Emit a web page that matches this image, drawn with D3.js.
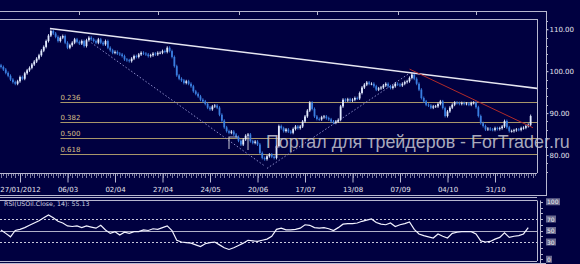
<!DOCTYPE html>
<html><head><meta charset="utf-8">
<script src="https://cdn.jsdelivr.net/npm/d3@7"></script>
<style>
html,body{margin:0;padding:0;background:#000040;overflow:hidden;}
svg{display:block;}
</style></head>
<body>
<svg id="c" width="580" height="264"></svg>
<script>
// ---------------- DATA ----------------
const closes = [
101.0,100.4,99.6,98.9,98.0,97.4,97.0,97.6,98.6,98.2,
99.5,100.2,100.8,101.6,102.3,103.0,103.8,104.9,105.8,107.2,
108.5,109.6,109.0,108.2,107.2,108.0,108.4,106.8,105.6,106.2,
106.8,107.6,107.0,106.6,107.2,106.0,107.4,108.0,107.6,107.2,
106.8,107.6,106.8,106.4,107.2,105.6,105.0,104.4,104.6,104.2,
104.0,103.6,102.8,102.6,102.4,103.0,103.6,103.4,104.0,104.4,
104.2,104.0,103.6,103.8,104.2,104.0,104.4,104.4,104.8,104.6,
105.6,104.8,103.4,101.2,99.0,98.2,97.8,97.2,97.6,97.0,
96.4,95.2,94.6,94.0,93.2,92.8,92.2,91.3,90.9,91.6,
91.8,91.3,89.6,88.2,86.6,85.7,85.3,85.6,84.9,84.3,
83.4,82.5,83.7,84.6,84.9,83.3,82.9,83.2,82.5,80.5,
79.3,79.0,79.7,80.1,79.6,79.3,82.1,86.9,86.4,85.7,
86.1,85.6,85.3,86.2,86.8,86.4,86.8,88.0,89.2,90.6,
92.5,91.0,89.2,88.6,88.5,89.0,89.2,88.8,88.5,88.0,
87.7,88.0,88.4,91.6,93.2,93.0,93.3,93.0,93.2,93.6,
93.5,94.8,96.1,96.8,97.3,97.0,97.0,96.4,95.6,95.9,
96.1,96.6,97.0,96.4,96.0,96.4,97.0,96.8,96.6,97.0,
97.4,97.6,98.4,99.2,98.2,97.0,95.6,93.6,92.8,92.0,
91.8,91.3,91.6,91.6,92.2,92.8,91.2,89.3,90.4,91.3,
92.0,92.5,92.4,92.2,92.4,92.2,92.3,92.0,92.4,92.5,
91.4,89.3,87.6,86.9,86.1,86.3,86.1,86.0,86.4,86.2,
86.4,86.8,88.1,86.6,85.7,85.7,85.9,86.1,86.0,86.4,
86.5,86.9,87.2,89.3
];
const firstOpen = 101.4;
// RSI(14) read every second bar
const rsi = [
51,45,39,50,52,55,59,63,67,72,
77,72,66,63,58,57,58,55,58,56,
54,59,51,45,48,42,47,45,48,48,
51,50,53,52,55,58,50,33,30,29,
28,25,22,27,29,30,25,20,17,20,
24,28,33,32,31,33,35,40,52,54,
51,51,52,54,60,59,55,54,55,53,
50,55,61,62,62,63,66,68,70,64,
61,60,63,57,60,62,65,52,44,41,
39,37,44,40,37,45,47,48,48,48,
44,32,30,31,35,38,46,38,40,41,
44,55
];
const dateLabels = ["27/01/2012","06/03","02/04","27/04","24/05","20/06","17/07","13/08","07/09","04/10","31/10"];
const dateIdx = [8,28,48,68,88,108,128,148,168,188,208];
const topTickIdx = [33,66,100,133,167,200];
const priceTicks = [80,90,100,110];
const rsiTicks = [100,70,50,30,0];
const fibLabels = ["0.236","0.382","0.500","0.618"];
const fibPrices = [92.6,87.9,84.0,80.2];
const fibStartIdx = 25;
const trendLine = [[20.6,110.2],[225.7,95.9]];
const redLine = [[172,100.5],[224,86.5]];
const dotLineA = [[38,106.8],[111,77.4]];
const dotLineB = [[112,76.8],[172,99.5]];
const rsiLabel = "RSI(USOil.Close, 14): 55.13";
const watermark = "Портал для трейдеров - ForTrader.ru";

// ---------------- CHART ----------------
const svg = d3.select("#c");
const W = 580, H = 264;
const BG = "#000040";
const plotR = 537, axisX = 546;
const mainTop = 19, mainBot = 173;
const rsiTop = 200.5, rsiBot = 261;
const FONT = "DejaVu Sans, Verdana, sans-serif";

svg.append("rect").attr("width",W).attr("height",H).attr("fill",BG);

const x = d3.scaleLinear().domain([0, 223]).range([1, 1 + 2.375*223]);
const y = d3.scaleLinear().domain([80,110]).range([155, 29.3]);
const yr = d3.scaleLinear().domain([0,100]).range([259.25, 201.75]);

const frameCol = "#b8b8d0";

// top double line
svg.append("line").attr("x1",0).attr("x2",axisX).attr("y1",11.5).attr("y2",11.5).attr("stroke",frameCol);
svg.append("line").attr("x1",0).attr("x2",plotR).attr("y1",mainTop+0.5).attr("y2",mainTop+0.5).attr("stroke",frameCol);
svg.selectAll(".ttick").data(topTickIdx).enter().append("line")
  .attr("x1",d=>Math.round(x(d))+0.5).attr("x2",d=>Math.round(x(d))+0.5)
  .attr("y1",11.5).attr("y2",15).attr("stroke",frameCol);

// main panel right frame & axis line
svg.append("line").attr("x1",plotR+0.5).attr("x2",plotR+0.5).attr("y1",mainTop).attr("y2",mainBot).attr("stroke",frameCol);
svg.append("line").attr("x1",axisX+0.5).attr("x2",axisX+0.5).attr("y1",11).attr("y2",196).attr("stroke",frameCol);

const gMain = svg.append("g");
svg.append("clipPath").attr("id","clipMain").append("rect").attr("x",0).attr("y",mainTop+1).attr("width",plotR).attr("height",mainBot-mainTop-1);
gMain.attr("clip-path","url(#clipMain)");

// fib lines
const fibCol = "#a8966a";
fibPrices.forEach((p,k)=>{
  gMain.append("line").attr("x1",x(fibStartIdx)).attr("x2",plotR)
    .attr("y1",Math.round(y(p))+0.5).attr("y2",Math.round(y(p))+0.5).attr("stroke",fibCol).attr("stroke-width",1);
  gMain.append("text").attr("x",x(fibStartIdx)).attr("y",Math.round(y(p))-2)
    .attr("font-family",FONT).attr("font-size",7).attr("fill","#d6bf86").text(fibLabels[k]);
});

// dotted lines
[dotLineA, dotLineB].forEach(L=>{
  gMain.append("line").attr("x1",x(L[0][0])).attr("y1",y(L[0][1])).attr("x2",x(L[1][0])).attr("y2",y(L[1][1]))
    .attr("stroke","#8c8cc8").attr("stroke-width",1).attr("stroke-dasharray","1.5,2");
});

// candles
const candles = closes.map((c,i)=>{
  const o = i===0 ? firstOpen : closes[i-1];
  return {i, o, c};
});
const upCol = "#e2ebff", dnCol = "#3a7ee0";
const bw = 1.8;
gMain.selectAll(".wick").data(candles).enter().append("line")
  .attr("x1",d=>x(d.i)).attr("x2",d=>x(d.i))
  .attr("y1",d=>y(Math.max(d.o,d.c)+0.35)).attr("y2",d=>y(Math.min(d.o,d.c)-0.35))
  .attr("stroke",d=>d.c>=d.o?upCol:dnCol).attr("stroke-width",0.9);
gMain.selectAll(".body").data(candles).enter().append("rect")
  .attr("x",d=>x(d.i)-bw/2).attr("width",bw)
  .attr("y",d=>y(Math.max(d.o,d.c)))
  .attr("height",d=>Math.max(0.8, Math.abs(y(d.o)-y(d.c))))
  .attr("fill",d=>d.c>=d.o?upCol:dnCol);

// trend line & red line
gMain.append("line").attr("x1",x(trendLine[0][0])).attr("y1",y(trendLine[0][1]))
  .attr("x2",x(trendLine[1][0])).attr("y2",y(trendLine[1][1]))
  .attr("stroke","#e6e6f2").attr("stroke-width",1.6);
gMain.append("line").attr("x1",x(redLine[0][0])).attr("y1",y(redLine[0][1]))
  .attr("x2",x(redLine[1][0])).attr("y2",y(redLine[1][1]))
  .attr("stroke","#b02a2a").attr("stroke-width",1);

// right price axis
const rAxis = d3.axisRight(y).tickValues(priceTicks).tickFormat(d3.format(".2f")).tickSize(2).tickPadding(1);
const gR = svg.append("g").attr("transform",`translate(${axisX+0.5},0)`).call(rAxis);
gR.select(".domain").remove();
gR.selectAll("line").attr("stroke",frameCol);
gR.selectAll("text").attr("font-family",FONT).attr("font-size",7).attr("fill","#e4e4ee");
svg.selectAll(".pminor").data(d3.range(76,113,2)).enter().append("line")
  .attr("x1",axisX).attr("x2",axisX+2).attr("y1",d=>Math.round(y(d))+0.5).attr("y2",d=>Math.round(y(d))+0.5)
  .attr("stroke",frameCol);

// bottom time axis
svg.append("line").attr("x1",0).attr("x2",plotR).attr("y1",mainBot+0.5).attr("y2",mainBot+0.5).attr("stroke",frameCol);
svg.selectAll(".tminor").data(d3.range(0,226,1)).enter().append("line")
  .attr("x1",d=>Math.round(x(d))+0.5).attr("x2",d=>Math.round(x(d))+0.5)
  .attr("y1",mainBot).attr("y2",d=>d%2===0?mainBot+5:mainBot+3).attr("stroke",frameCol).attr("stroke-width",0.7);
const bAxis = d3.axisBottom(x).tickValues(dateIdx).tickFormat((d,k)=>dateLabels[k]).tickSize(9).tickPadding(5);
const gB = svg.append("g").attr("transform",`translate(0,${mainBot+0.5})`).call(bAxis);
gB.select(".domain").remove();
gB.selectAll("line").attr("stroke",frameCol);
gB.selectAll("text").attr("font-family",FONT).attr("font-size",7).attr("fill","#e4e4ee");

// separators
svg.append("line").attr("x1",0).attr("x2",axisX).attr("y1",195.5).attr("y2",195.5).attr("stroke",frameCol);
svg.append("line").attr("x1",0).attr("x2",plotR).attr("y1",197.5).attr("y2",197.5).attr("stroke",frameCol);

// RSI panel
svg.append("line").attr("x1",0).attr("x2",plotR).attr("y1",rsiTop).attr("y2",rsiTop).attr("stroke",frameCol);
svg.append("line").attr("x1",plotR+0.5).attr("x2",plotR+0.5).attr("y1",rsiTop).attr("y2",rsiBot).attr("stroke",frameCol);
svg.append("line").attr("x1",0).attr("x2",plotR).attr("y1",rsiBot+0.5).attr("y2",rsiBot+0.5).attr("stroke",frameCol);
svg.append("line").attr("x1",0).attr("x2",axisX).attr("y1",263.5).attr("y2",263.5).attr("stroke",frameCol);
[70,30].forEach(v=>{
  svg.append("line").attr("x1",0).attr("x2",plotR).attr("y1",Math.round(yr(v))+0.5).attr("y2",Math.round(yr(v))+0.5)
    .attr("stroke","#c8c8dc").attr("stroke-dasharray","2,2");
});
svg.append("line").attr("x1",0).attr("x2",plotR).attr("y1",Math.round(yr(50))+0.5).attr("y2",Math.round(yr(50))+0.5)
  .attr("stroke","#b0b0c8");
svg.append("path").datum(rsi)
  .attr("d", d3.line().x((d,k)=>x(2*k)).y(d=>yr(d)))
  .attr("fill","none").attr("stroke","#f2f2ff").attr("stroke-width",1.2);
svg.append("text").attr("x",4).attr("y",206).attr("font-family",FONT).attr("font-size",6.3)
  .attr("fill","#d0d0e0").text(rsiLabel);

// RSI axis
const rsiAxisX = 540;
svg.append("line").attr("x1",rsiAxisX+0.5).attr("x2",rsiAxisX+0.5).attr("y1",rsiTop).attr("y2",264).attr("stroke",frameCol);
svg.selectAll(".rminor").data(d3.range(0,101,10)).enter().append("line")
  .attr("x1",rsiAxisX).attr("x2",rsiAxisX+3).attr("y1",d=>Math.round(yr(d))+0.5).attr("y2",d=>Math.round(yr(d))+0.5)
  .attr("stroke",frameCol);
const rl = svg.selectAll(".rlab").data(rsiTicks).enter().append("g")
  .attr("transform",d=>`translate(${rsiAxisX+7},${yr(d)})`);
rl.append("rect").attr("x",-1).attr("y",-3.5).attr("width",d=>String(d).length*4+2).attr("height",7).attr("fill","#6a6a90");
rl.append("text").attr("y",2.5).attr("font-family",FONT).attr("font-size",6).attr("fill","#f0f0f0").text(d=>d);

// watermark (logo + text)
const wm = svg.append("g").attr("stroke","#c8c8d4").attr("stroke-opacity",0.85).attr("fill","none").attr("stroke-width",1.2);
wm.append("path").attr("d","M229,149 V137 H238 M248,137 V150");
svg.append("text").attr("x",266).attr("y",148).attr("font-family","Liberation Sans, Arial, sans-serif")
  .attr("font-size",17.9).attr("fill","#c8c8d4").attr("fill-opacity",0.85).text(watermark);
</script>
</body></html>
